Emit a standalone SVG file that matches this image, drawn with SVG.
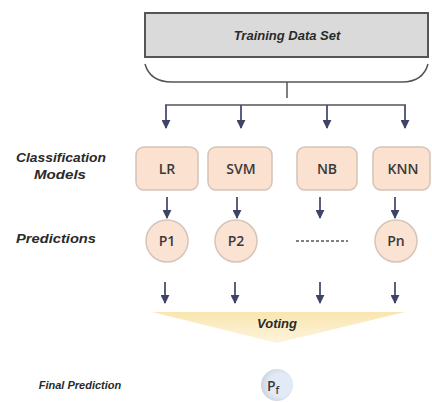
<svg xmlns="http://www.w3.org/2000/svg" width="432" height="402" viewBox="0 0 432 402">
<defs>
<marker id="ah" viewBox="0 0 10 10" refX="9" refY="5" markerWidth="9" markerHeight="9" markerUnits="userSpaceOnUse" orient="auto">
<path d="M0,0 L10,5 L0,10 Z" fill="#3e4468"/>
</marker>
<linearGradient id="vg" x1="0" y1="0" x2="0" y2="1">
<stop offset="0" stop-color="#f9e6b0"/>
<stop offset="1" stop-color="#fdf4dc"/>
</linearGradient>
<radialGradient id="pg" cx="0.6" cy="0.5" r="0.6">
<stop offset="0.6" stop-color="#e2eaf5"/>
<stop offset="1" stop-color="#c9d2de"/>
</radialGradient>
</defs>
<style>
.lbl{font-family:"Liberation Sans",Arial,sans-serif;font-weight:bold;font-style:italic;fill:#2a2a2a;text-anchor:middle}
.box{fill:#fbe1d0;stroke:#d6c2b6;stroke-width:1.5}
.circ{fill:#fbe3d3;stroke:#d6c4b8;stroke-width:1.5}
.bt{font-family:"Open Sans","Liberation Sans",Arial,sans-serif;font-weight:600;font-size:14px;fill:#3a3a3a;text-anchor:middle}
.gl{stroke:#555;stroke-width:1.5;fill:none}
.ar{stroke:#4a4e6e;stroke-width:1.8;fill:none;marker-end:url(#ah)}
</style>
<rect width="432" height="402" fill="#ffffff"/>

<g id="training">
<rect x="145" y="13" width="283" height="44" fill="#dadada" stroke="#555" stroke-width="2"/>
<text class="lbl" x="287" y="40" font-size="13">Training Data Set</text>
</g>

<g id="labels">
<text class="lbl" x="61" y="162" font-size="12" textLength="90" lengthAdjust="spacingAndGlyphs">Classification</text>
<text class="lbl" x="60" y="179" font-size="12" textLength="52" lengthAdjust="spacingAndGlyphs">Models</text>
<text class="lbl" x="56" y="243" font-size="12" textLength="80" lengthAdjust="spacingAndGlyphs">Predictions</text>
<text class="lbl" x="80" y="389" font-size="11">Final Prediction</text>
</g>

<g id="connectors">
<path class="gl" d="M145,64 Q150,82 172,82 L402,82 Q423,82 428,64" stroke-width="2"/>
<line class="gl" x1="287" y1="82" x2="287" y2="98"/>
<line class="gl" x1="165" y1="105" x2="406" y2="105"/>
<line class="ar" x1="166" y1="105" x2="166" y2="128"/>
<line class="ar" x1="241" y1="105" x2="241" y2="128"/>
<line class="ar" x1="327" y1="105" x2="327" y2="128"/>
<line class="ar" x1="405" y1="105" x2="405" y2="128"/>
<line class="ar" x1="167" y1="197" x2="167" y2="218"/>
<line class="ar" x1="237" y1="197" x2="237" y2="218"/>
<line class="ar" x1="320" y1="197" x2="320" y2="218"/>
<line class="ar" x1="395" y1="197" x2="395" y2="218"/>
<line class="ar" x1="165" y1="282" x2="165" y2="303"/>
<line class="ar" x1="235" y1="282" x2="235" y2="303"/>
<line class="ar" x1="320" y1="282" x2="320" y2="303"/>
<line class="ar" x1="395" y1="282" x2="395" y2="303"/>
<line x1="296" y1="241" x2="348" y2="241" stroke="#555" stroke-width="1.5" stroke-dasharray="3,2"/>
</g>

<g id="lr">
<rect class="box" x="136" y="147" width="62" height="43" rx="8"/>
<text class="bt" x="167" y="174">LR</text>
</g>
<g id="svm">
<rect class="box" x="208" y="147" width="64" height="43" rx="8"/>
<text class="bt" x="241" y="174">SVM</text>
</g>
<g id="nb">
<rect class="box" x="297" y="147" width="60" height="43" rx="8"/>
<text class="bt" x="327" y="174">NB</text>
</g>
<g id="knn">
<rect class="box" x="373" y="147" width="57" height="43" rx="8"/>
<text class="bt" x="403" y="174">KNN</text>
</g>

<g id="p1">
<circle class="circ" cx="167" cy="241" r="21"/>
<text class="bt" x="167" y="246">P1</text>
</g>
<g id="p2">
<circle class="circ" cx="236" cy="241" r="21"/>
<text class="bt" x="236" y="246">P2</text>
</g>
<g id="pn">
<circle class="circ" cx="396" cy="241" r="21"/>
<text class="bt" x="396" y="246">Pn</text>
</g>

<g id="voting">
<polygon points="152,312 405,312 277,343" fill="url(#vg)"/>
<text class="lbl" x="277" y="328" font-size="13" fill="#3a3626">Voting</text>
</g>

<g id="pf">
<circle cx="277" cy="385" r="16" fill="url(#pg)"/>
<text x="273" y="391" font-family="'Open Sans','Liberation Sans',Arial,sans-serif" font-weight="600" font-size="14" fill="#3a3a3a" text-anchor="middle">P<tspan font-size="10" dy="3">f</tspan></text>
</g>
</svg>
